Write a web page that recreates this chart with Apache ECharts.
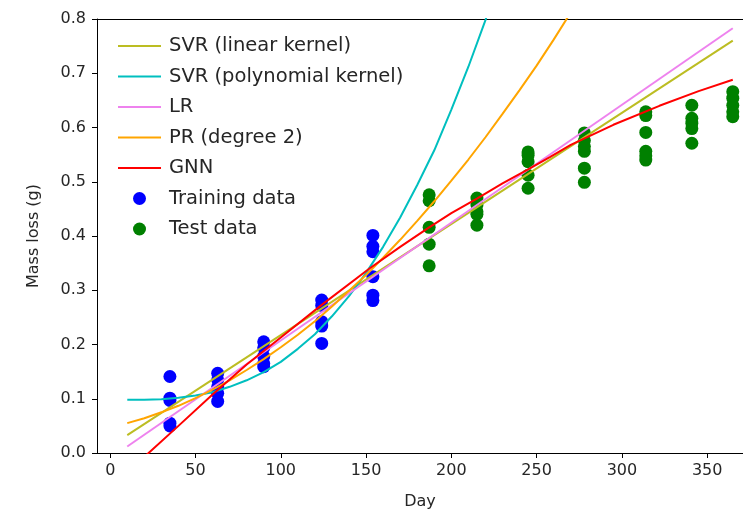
<!DOCTYPE html>
<html>
<head>
<meta charset="utf-8">
<script src="https://cdn.jsdelivr.net/npm/echarts@6/dist/echarts.min.js"></script>
<style>
  html, body { margin: 0; padding: 0; background: #fff; }
  #main { width: 743px; height: 514px; }
</style>
</head>
<body>
<div id="main"></div>
<script>
// values
var xTicks = [0, 50, 100, 150, 200, 250, 300, 350];

var trainDay  = [35, 35, 35, 35, 35, 63, 63, 63, 63, 63, 90, 90, 90, 90, 90, 124, 124, 124, 124, 124, 154, 154, 154, 154, 154, 154];
var trainMass = [0.141, 0.101, 0.097, 0.055, 0.050, 0.147, 0.135, 0.122, 0.110, 0.095, 0.205, 0.194, 0.178, 0.165, 0.159,
                 0.282, 0.272, 0.242, 0.234, 0.202, 0.401, 0.381, 0.371, 0.325, 0.291, 0.281];

var testDay  = [187, 187, 187, 187, 187, 215, 215, 215, 215, 215, 245, 245, 245, 245, 245,
                278, 278, 278, 278, 278, 278, 314, 314, 314, 314, 314, 314, 341, 341, 341, 341, 341, 365, 365, 365, 365, 365];
var testMass = [0.476, 0.465, 0.416, 0.385, 0.345, 0.470, 0.457, 0.445, 0.440, 0.420, 0.555, 0.549, 0.537, 0.512, 0.488,
                0.590, 0.576, 0.565, 0.556, 0.525, 0.499, 0.629, 0.622, 0.591, 0.556, 0.548, 0.540,
                0.641, 0.617, 0.608, 0.598, 0.571, 0.666, 0.654, 0.641, 0.629, 0.620];

var svrLinDay  = [10, 365];
var svrLinMass = [0.033, 0.760];

var svrPolyDay  = [10, 20, 30, 40, 50, 60, 70, 80, 90, 100, 110, 120, 130, 140, 150, 160, 170, 180, 190, 200, 210, 220, 225];
var svrPolyMass = [0.098, 0.098, 0.099, 0.102, 0.106, 0.112, 0.122, 0.134, 0.149, 0.168, 0.192, 0.219, 0.252, 0.289,
                   0.332, 0.380, 0.434, 0.494, 0.558, 0.633, 0.712, 0.798, 0.846];

var lrDay  = [10, 365];
var lrMass = [0.012, 0.783];

var prDay  = [10, 20, 30, 40, 50, 60, 70, 80, 90, 100, 110, 120, 130, 140, 150, 160, 170, 180, 190, 200, 210, 220, 230, 240, 250, 260, 270];
var prMass = [0.055, 0.064, 0.075, 0.087, 0.101, 0.117, 0.134, 0.153, 0.173, 0.195, 0.218, 0.243, 0.270, 0.299,
              0.328, 0.360, 0.393, 0.428, 0.464, 0.502, 0.541, 0.582, 0.625, 0.669, 0.714, 0.762, 0.812];

var gnnDay  = [10, 22.5, 40, 60, 80, 100, 124, 152, 170, 187, 200, 215, 230, 245, 258, 270, 295, 322, 345, 365];
var gnnMass = [-0.036, 0, 0.050, 0.108, 0.163, 0.213, 0.273, 0.340, 0.380, 0.416, 0.442, 0.469, 0.497, 0.523, 0.546,
               0.568, 0.605, 0.640, 0.667, 0.688];

function pairs(xs, ys) {
    return xs.map(function (x, i) { return [x, ys[i]]; });
}

var font = 'DejaVu Sans';
var textColor = '#262626';

var myChart = echarts.init(document.getElementById('main'), null, { renderer: 'canvas' });

function curve(name, color, xs, ys) {
    return {
        name: name,
        type: 'line',
        data: pairs(xs, ys),
        symbol: 'none',
        showSymbol: false,
        clip: true,
        z: 3,
        color: color,
        lineStyle: { color: color, width: 2 }
    };
}

// legend entries for lines: hide the symbol, keep the line
function lineItem(name) {
    return { name: name, itemStyle: { opacity: 0 } };
}

var option = {
    animation: false,
    backgroundColor: '#fff',
    grid: { left: 97, right: 0, top: 19, bottom: 61, outerBoundsMode: 'none' },
    legend: {
        orient: 'vertical',
        left: 112,
        top: 31,
        itemWidth: 43,
        itemHeight: 13,
        itemGap: 10.5,
        textStyle: { fontFamily: font, fontSize: 19.5, color: textColor, padding: [0, 0, 0, 3] },
        data: [
            lineItem('SVR (linear kernel)'),
            lineItem('SVR (polynomial kernel)'),
            lineItem('LR'),
            lineItem('PR (degree 2)'),
            lineItem('GNN'),
            { name: 'Training data', icon: 'circle' },
            { name: 'Test data', icon: 'circle' }
        ]
    },
    xAxis: [{
        type: 'value',
        min: -7.75,
        max: 371,
        name: 'Day',
        nameLocation: 'middle',
        nameGap: 41,
        nameTextStyle: { fontFamily: font, fontSize: 16, color: textColor },
        axisLine: { show: true, onZero: false, lineStyle: { color: '#000', width: 1 } },
        axisTick: { show: true, inside: false, length: 5, customValues: xTicks, lineStyle: { color: '#000' } },
        axisLabel: { customValues: xTicks, margin: 10, fontFamily: font, fontSize: 16, color: textColor },
        splitLine: { show: false }
    }, {
        type: 'value',
        position: 'top',
        min: -7.75,
        max: 371,
        axisLine: { show: true, onZero: false, lineStyle: { color: '#000', width: 1 } },
        axisTick: { show: false },
        axisLabel: { show: false },
        splitLine: { show: false }
    }],
    yAxis: {
        type: 'value',
        min: 0,
        max: 0.8,
        interval: 0.1,
        name: 'Mass loss (g)',
        nameLocation: 'middle',
        nameGap: 55,
        nameTextStyle: { fontFamily: font, fontSize: 16, color: textColor },
        axisLine: { show: true, onZero: false, lineStyle: { color: '#000', width: 1 } },
        axisTick: { show: true, inside: false, length: 5, lineStyle: { color: '#000' } },
        axisLabel: {
            margin: 11, fontFamily: font, fontSize: 16, color: textColor,
            formatter: function (v) { return v.toFixed(1); }
        },
        splitLine: { show: false }
    },
    series: [
        curve('SVR (linear kernel)', '#bcbd22', svrLinDay, svrLinMass),
        curve('SVR (polynomial kernel)', '#00bfbf', svrPolyDay, svrPolyMass),
        curve('LR', '#ee82ee', lrDay, lrMass),
        curve('PR (degree 2)', '#ffa500', prDay, prMass),
        curve('GNN', '#ff0000', gnnDay, gnnMass),
        {
            name: 'Training data',
            type: 'scatter',
            data: pairs(trainDay, trainMass),
            symbol: 'circle',
            symbolSize: 13,
            z: 2,
            itemStyle: { color: '#0000ff', opacity: 1 }
        },
        {
            name: 'Test data',
            type: 'scatter',
            data: pairs(testDay, testMass),
            symbol: 'circle',
            symbolSize: 13,
            z: 2,
            itemStyle: { color: '#008000', opacity: 1 }
        }
    ]
};

myChart.setOption(option);
</script>
</body>
</html>
